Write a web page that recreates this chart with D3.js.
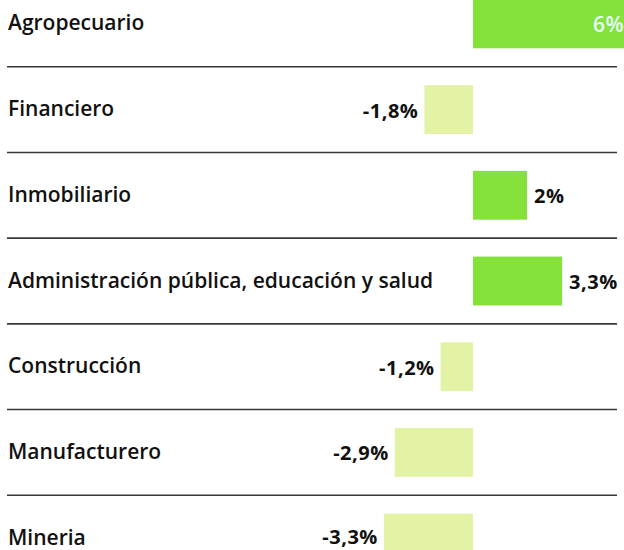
<!DOCTYPE html>
<html>
<head>
<meta charset="utf-8">
<script src="https://cdn.jsdelivr.net/npm/d3@7"></script>
<style>
  body { margin: 0; background: #fff; }
  svg { display: block; }
</style>
</head>
<body>
<div id="chart"></div>
<script>
// data
var sectors = ["Agropecuario", "Financiero", "Inmobiliario",
  "Administración pública, educación y salud", "Construcción",
  "Manufacturero", "Mineria"];
var growth = [6, -1.8, 2, 3.3, -1.2, -2.9, -3.3];
var growthLabels = ["6%", "-1,8%", "2%", "3,3%", "-1,2%", "-2,9%", "-3,3%"];

function init() {
  var w = 624, h = 550;

  var rows = sectors.map(function(s, i) {
    return { name: s, value: growth[i], label: growthLabels[i] };
  });

  var xScale = d3.scaleLinear()
    .domain([-4, 6])
    .range([365, 635]);

  var yScale = d3.scaleBand()
    .domain(sectors)
    .range([-19, 581])
    .paddingInner(0.43)
    .paddingOuter(0.215);

  var svg = d3.select("#chart").append("svg")
    .attr("width", w)
    .attr("height", h)
    .style("font-family", "'Open Sans', sans-serif");

  var half = yScale.step() / 2;
  var mid = function(d) { return yScale(d.name) + yScale.bandwidth() / 2; };

  // separators between rows
  svg.selectAll("line.sep")
    .data(rows.slice(0, -1))
    .enter().append("line")
    .attr("class", "sep")
    .attr("x1", 7).attr("x2", 617)
    .attr("y1", function(d) { return mid(d) + half; })
    .attr("y2", function(d) { return mid(d) + half; })
    .attr("stroke", "#3a3636")
    .attr("stroke-width", 1.6);

  // bars
  svg.selectAll("rect.bar")
    .data(rows)
    .enter().append("rect")
    .attr("class", "bar")
    .attr("x", function(d) { return xScale(Math.min(0, d.value)); })
    .attr("width", function(d) { return Math.abs(xScale(d.value) - xScale(0)); })
    .attr("y", function(d) { return yScale(d.name); })
    .attr("height", yScale.bandwidth())
    .attr("fill", function(d) { return d.value > 0 ? "#84e23a" : "#e3f3a6"; });

  // category names
  svg.selectAll("text.cat")
    .data(rows)
    .enter().append("text")
    .attr("class", "cat")
    .attr("x", 8)
    .attr("y", function(d) { return mid(d) + 6.5; })
    .attr("font-size", 21)
    .attr("font-weight", 600)
    .attr("fill", "#111")
    .text(function(d) { return d.name; });

  // value labels (kept inside the bottom edge)
  svg.selectAll("text.val")
    .data(rows)
    .enter().append("text")
    .attr("class", "val")
    .attr("x", function(d) {
      if (d.value >= 5) return xScale(d.value) - 42;
      return d.value > 0 ? xScale(d.value) + 7 : xScale(d.value) - 6;
    })
    .attr("y", function(d) { return Math.min(mid(d) + 8, h - 6); })
    .attr("text-anchor", function(d) {
      return d.value > 0 ? "start" : "end";
    })
    .attr("font-size", function(d) { return d.value >= 5 ? 21 : 20; })
    .attr("font-weight", function(d) { return d.value >= 5 ? 600 : 700; })
    .attr("letter-spacing", 0.5)
    .attr("fill", function(d) { return d.value >= 5 ? "#e4fbff" : "#111"; })
    .text(function(d) { return d.label; });
}

window.onload = init;
</script>
</body>
</html>
